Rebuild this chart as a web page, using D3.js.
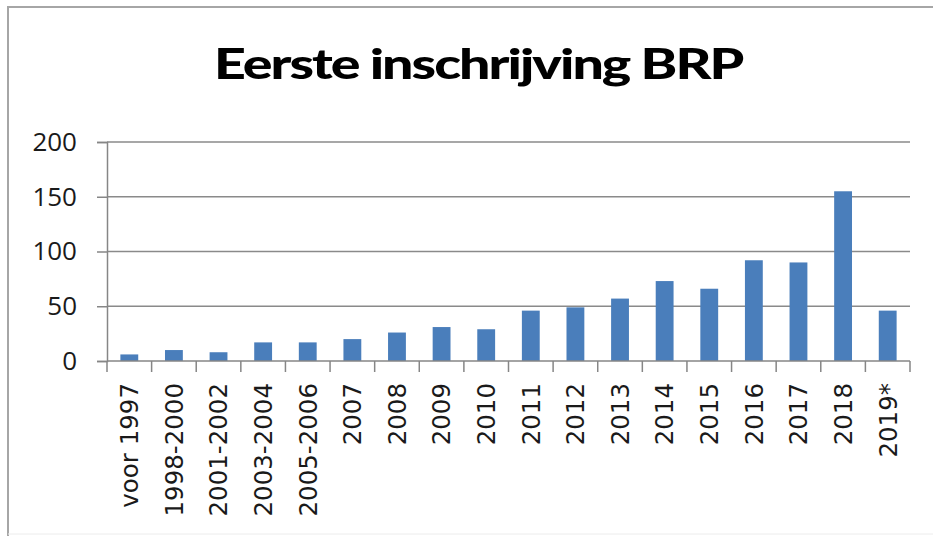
<!DOCTYPE html>
<html>
<head>
<meta charset="utf-8">
<script src="https://cdn.jsdelivr.net/npm/d3@7/dist/d3.min.js"></script>
<style>
  html, body { margin: 0; padding: 0; background: #fff; }
  svg { display: block; }
</style>
</head>
<body>
<svg id="chart" width="933" height="537"></svg>
<script>
const categories = ["voor 1997","1998-2000","2001-2002","2003-2004","2005-2006","2007","2008","2009","2010","2011","2012","2013","2014","2015","2016","2017","2018","2019*"];
const values = [6, 10, 8, 17, 17, 20, 26, 31, 29, 46, 49, 57, 73, 66, 92, 90, 155, 46];
const yTicks = [0, 50, 100, 150, 200];
const title = "Eerste inschrijving BRP";

const svg = d3.select("#chart");
const plot = { left: 107, right: 910, top: 142, bottom: 361 };

// outer frame
svg.append("line").attr("x1", 8).attr("x2", 940).attr("y1", 7).attr("y2", 7)
  .attr("stroke", "#a6a6a6").attr("stroke-width", 2);
svg.append("line").attr("x1", 8).attr("x2", 8).attr("y1", 6).attr("y2", 536)
  .attr("stroke", "#a6a6a6").attr("stroke-width", 2);
svg.append("line").attr("x1", 8).attr("x2", 940).attr("y1", 534).attr("y2", 534)
  .attr("stroke", "#ececec").attr("stroke-width", 1);

// title
const t = svg.append("text")
  .attr("x", 0).attr("y", 0)
  .attr("font-family", "Lato, 'Open Sans', sans-serif")
  .attr("font-weight", 900)
  .attr("font-size", 42)
  .attr("letter-spacing", -1.5)
  .attr("fill", "#000")
  .text(title);
const tw = t.node().getBBox().width;
const targetW = 530;
t.attr("transform", `translate(214,79) scale(${targetW / tw},1)`);

const x = d3.scaleBand().domain(categories).range([plot.left, plot.right]).paddingInner(0.6).paddingOuter(0.3);
const xb = d3.scaleBand().domain(categories).range([plot.left, plot.right]);
const y = d3.scaleLinear().domain([0, 200]).range([plot.bottom, plot.top]);

// gridlines
svg.append("g").selectAll("line").data(yTicks.filter(d => d > 0)).join("line")
  .attr("x1", plot.left).attr("x2", plot.right)
  .attr("y1", d => y(d)).attr("y2", d => y(d))
  .attr("stroke", "#8a8a8a").attr("stroke-width", 1.5);

// bars
svg.append("g").selectAll("rect").data(values).join("rect")
  .attr("x", (d, i) => x(categories[i]))
  .attr("width", x.bandwidth())
  .attr("y", d => y(d))
  .attr("height", d => y(0) - y(d))
  .attr("fill", "#4a7ebb");

// y axis
const yAxis = d3.axisLeft(y).tickValues(yTicks).tickSize(10).tickPadding(20);
const gy = svg.append("g").attr("transform", `translate(${plot.left},0)`).call(yAxis);
gy.select(".domain").attr("stroke", "#868686").attr("stroke-width", 1.5);
gy.selectAll(".tick line").attr("stroke", "#868686").attr("stroke-width", 1.5);
gy.selectAll(".tick text")
  .attr("font-family", "'Open Sans', sans-serif")
  .attr("font-size", 26)
  .attr("fill", "#1a1a1a");

// x axis
const boundaries = categories.map(c => xb(c)).concat([plot.right]);
svg.append("g").selectAll("line").data(boundaries).join("line")
  .attr("x1", d => d).attr("x2", d => d)
  .attr("y1", plot.bottom).attr("y2", plot.bottom + 11)
  .attr("stroke", "#868686").attr("stroke-width", 1.5);
svg.append("line").attr("x1", plot.left).attr("x2", plot.right)
  .attr("y1", plot.bottom).attr("y2", plot.bottom)
  .attr("stroke", "#868686").attr("stroke-width", 1.5);

svg.append("g").selectAll("text").data(categories).join("text")
  .attr("transform", d => `translate(${xb(d) + xb.bandwidth() / 2},383) rotate(-90)`)
  .attr("text-anchor", "end")
  .attr("dy", "0.36em")
  .attr("font-family", "'DejaVu Sans', sans-serif")
  .attr("font-size", 24.5)
  .attr("fill", "#1a1a1a")
  .text(d => d);
</script>
</body>
</html>
